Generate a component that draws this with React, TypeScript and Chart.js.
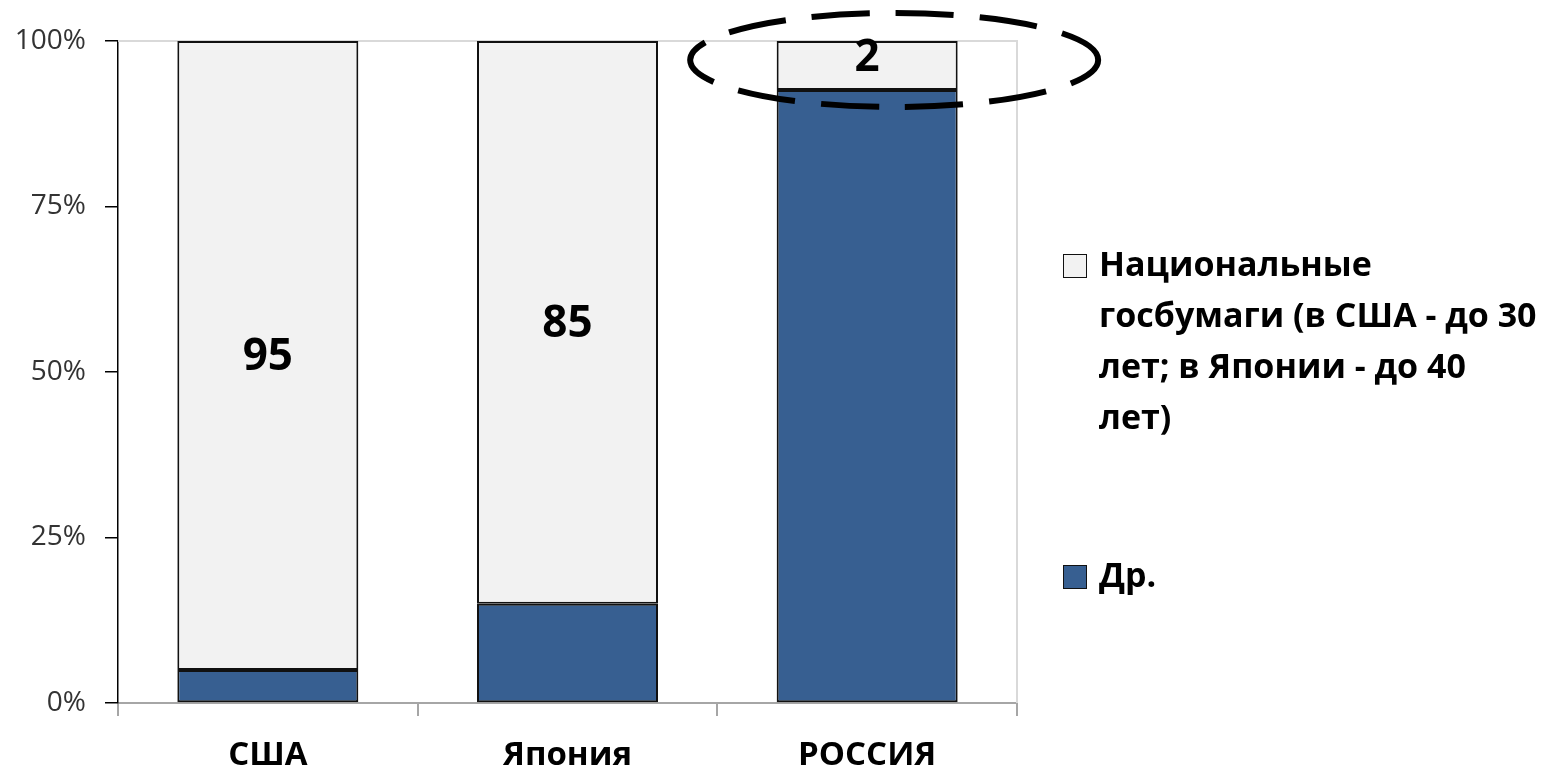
import React, { useEffect, useRef } from "react";
import { Chart, registerables } from "chart.js";

Chart.register(...registerables);

// ---- data ----
const categories: string[] = ["США", "Япония", "РОССИЯ"];
const nationalRaw: number[] = [95, 85, 2];
const otherRaw: number[] = [5, 15, 25];
const yTicks: number[] = [0, 25, 50, 75, 100];
const nationalLabelLines: string[] = [
  "Национальные",
  "госбумаги (в США - до 30",
  "лет; в Японии - до 40",
  "лет)",
];
const otherLabel = "Др.";
const highlightIndex = 2;

const DARK = "#375F91";
const LIGHT = "#F2F2F2";
const FONT = "'Open Sans', 'Noto Sans', sans-serif";

const pct = (arr: number[]) =>
  arr.map((v, i) => (v / (nationalRaw[i] + otherRaw[i])) * 100);

export default function App() {
  const ref = useRef<HTMLCanvasElement>(null);

  useEffect(() => {
    if (!ref.current) return;

    const frame = {
      id: "frame",
      beforeDatasetsDraw(chart: any) {
        const { ctx, chartArea: a } = chart;
        ctx.save();
        ctx.strokeStyle = "#d9d9d9";
        ctx.lineWidth = 2;
        ctx.beginPath();
        ctx.moveTo(a.left, a.top);
        ctx.lineTo(a.right, a.top);
        ctx.lineTo(a.right, a.bottom);
        ctx.stroke();
        ctx.restore();
      },
    };

    const labels = {
      id: "valueLabels",
      afterDatasetsDraw(chart: any) {
        const { ctx } = chart;
        const meta = chart.getDatasetMeta(1);
        ctx.save();
        ctx.font = `bold 44px ${FONT}`;
        ctx.fillStyle = "#000";
        ctx.textAlign = "center";
        ctx.textBaseline = "middle";
        meta.data.forEach((el: any, i: number) => {
          const h = Math.abs(el.base - el.y);
          const cy = (el.y + el.base) / 2 - (h < 60 ? 7 : -2);
          ctx.fillText(String(nationalRaw[i]), el.x, cy);
        });
        ctx.restore();
      },
    };

    const ellipse = {
      id: "highlight",
      afterDraw(chart: any) {
        const { ctx } = chart;
        const xs = chart.scales.x;
        const ys = chart.scales.y;
        const cx = xs.getPixelForValue(highlightIndex) + 27;
        const cy = ys.getPixelForValue(100) + 19;
        ctx.save();
        ctx.strokeStyle = "#000";
        ctx.lineWidth = 6;
        ctx.setLineDash([58, 26]);
        ctx.lineDashOffset = 20;
        ctx.beginPath();
        ctx.ellipse(cx, cy, 204, 47, 0, 0, Math.PI * 2);
        ctx.stroke();
        ctx.restore();
      },
    };

    const chart = new Chart(ref.current, {
      type: "bar",
      data: {
        labels: categories,
        datasets: [
          {
            label: otherLabel,
            data: pct(otherRaw),
            backgroundColor: DARK,
            borderColor: "#111",
            borderWidth: 2,
            borderSkipped: false,
            barPercentage: 0.604,
            categoryPercentage: 1,
          },
          {
            label: nationalLabelLines.join(" "),
            data: pct(nationalRaw),
            backgroundColor: LIGHT,
            borderColor: "#111",
            borderWidth: 2,
            borderSkipped: false,
            barPercentage: 0.604,
            categoryPercentage: 1,
          },
        ],
      },
      options: {
        animation: false,
        responsive: true,
        maintainAspectRatio: false,
        layout: { padding: { left: 0, top: 41, right: 550, bottom: 0 } },
        plugins: {
          legend: { display: false },
          tooltip: { enabled: false },
        },
        scales: {
          x: {
            stacked: true,
            grid: {
              offset: true,
              drawOnChartArea: false,
              drawTicks: true,
              tickLength: 13,
              color: "#a6a6a6",
              lineWidth: 2,
            },
            border: { color: "#a6a6a6", width: 2 },
            ticks: {
              color: "#000",
              font: { family: FONT, size: 33, weight: "bold" },
              padding: 20,
            },
            afterFit(scale: any) {
              scale.height = 70;
            },
          },
          y: {
            stacked: true,
            min: 0,
            max: 100,
            afterBuildTicks(scale: any) {
              scale.ticks = yTicks.map((v) => ({ value: v }));
            },
            grid: {
              drawOnChartArea: false,
              drawTicks: true,
              tickLength: 13,
              color: "#000",
              lineWidth: 1.5,
            },
            border: { color: "#000", width: 1.5 },
            ticks: {
              color: "#333",
              font: { family: FONT, size: 28 },
              padding: 19,
              callback: (v: any) => `${v}%`,
            },
            afterFit(scale: any) {
              scale.width = 118;
            },
          },
        },
      },
      plugins: [frame, labels, ellipse],
    });

    return () => chart.destroy();
  }, []);

  const textStyle: React.CSSProperties = {
    position: "absolute",
    left: 1099,
    fontFamily: FONT,
    fontWeight: 700,
    fontSize: 34,
    lineHeight: "51px",
    color: "#000",
    whiteSpace: "nowrap",
  };
  const sq = (top: number, bg: string): React.CSSProperties => ({
    position: "absolute",
    left: 1063,
    top,
    width: 22,
    height: 22,
    background: bg,
    border: "1.5px solid #111",
  });

  return (
    <div
      style={{
        position: "absolute",
        left: 0,
        top: 0,
        width: 1567,
        height: 773,
        background: "#fff",
        overflow: "hidden",
      }}
    >
      <canvas ref={ref} />
      <div style={sq(254, LIGHT)} />
      <div style={{ ...textStyle, top: 238 }}>
        {nationalLabelLines.map((l, i) => (
          <div key={i}>{l}</div>
        ))}
      </div>
      <div style={sq(565, DARK)} />
      <div style={{ ...textStyle, top: 549 }}>{otherLabel}</div>
    </div>
  );
}
